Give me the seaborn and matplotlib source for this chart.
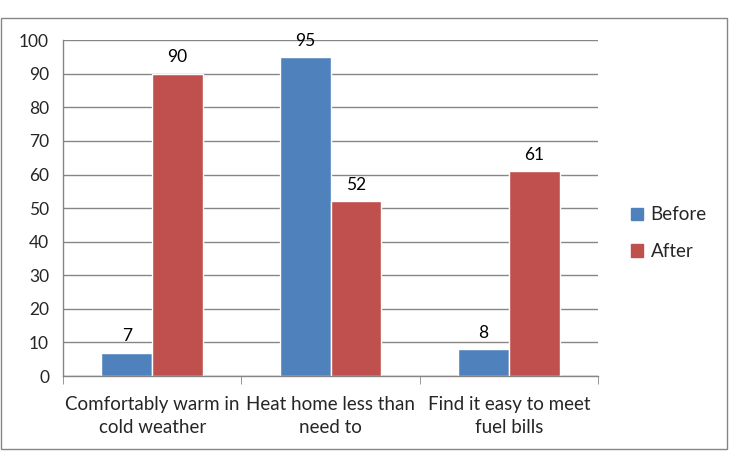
import matplotlib
matplotlib.use("Agg")
import matplotlib.pyplot as plt
import matplotlib.patches as mpatches
import seaborn as sns
import pandas as pd

# chart data
categories = ["Comfortably warm in\ncold weather", "Heat home less than\nneed to", "Find it easy to meet\nfuel bills"]
before = [7, 95, 8]
after = [90, 52, 61]
series = ["Before", "After"]
colors = ["#4F81BD", "#C0504D"]

df = pd.DataFrame({
    "Category": categories * 2,
    "Series": ["Before"] * 3 + ["After"] * 3,
    "Value": before + after,
})

sns.set_style("white")
plt.rcParams["font.family"] = ["Lato", "DejaVu Sans"]

fig = plt.figure(figsize=(7.31, 4.62), dpi=100)
ax = fig.add_axes([0.0862, 0.186, 0.732, 0.727])

sns.barplot(data=df, x="Category", y="Value", hue="Series", hue_order=series,
            palette=colors, width=0.57, saturation=1, ax=ax, legend=False)

for cont in ax.containers:
    ax.bar_label(cont, fontsize=12.5, padding=6, color="black")

ax.set_ylim(0, 100)
ax.set_xlim(-0.5, 2.5)
ax.set_yticks(range(0, 101, 10))
ax.yaxis.grid(True, color="#868686", linewidth=1)
ax.set_axisbelow(True)
ax.set_xlabel("")
ax.set_ylabel("")

# category boundary ticks
ax.set_xticks([-0.5, 0.5, 1.5, 2.5], minor=True)
ax.tick_params(axis="x", which="major", length=0, labelsize=13.5, pad=14)
ax.tick_params(axis="x", which="minor", length=6, color="#868686", direction="out")
ax.tick_params(axis="y", length=6, color="#868686", labelsize=12.5, direction="out", pad=4)
ax.xaxis.set_ticks_position("bottom")
for lbl in ax.get_xticklabels():
    lbl.set_linespacing(1.45)

for s in ["top", "right"]:
    ax.spines[s].set_visible(False)
for s in ["left", "bottom"]:
    ax.spines[s].set_color("#868686")
    ax.spines[s].set_linewidth(1)

handles = [mpatches.Patch(color=c, label=l) for c, l in zip(colors, series)]
fig.legend(handles=handles, loc="center left", bbox_to_anchor=(0.84, 0.495),
           frameon=False, fontsize=13.5, handlelength=0.65, handleheight=0.65,
           handletextpad=0.4, labelspacing=1.05)

# outer chart border
fig.patches.append(mpatches.Rectangle((0.0014, 0.028), 0.993, 0.933,
                                      transform=fig.transFigure, fill=False,
                                      edgecolor="#868686", linewidth=1))

fig.savefig("out.png", dpi=100)
